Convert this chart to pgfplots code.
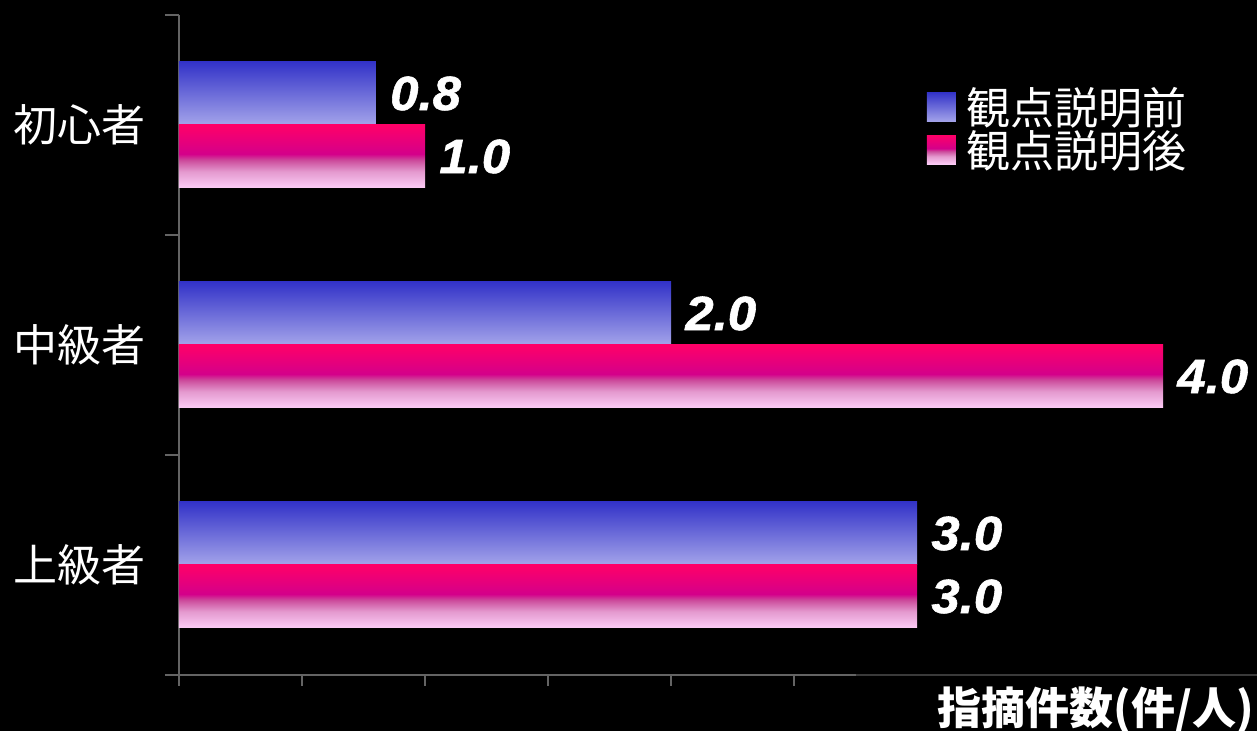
\documentclass[border=0pt]{standalone}
\usepackage{fontspec}
\setmainfont{Noto Sans CJK JP}
\newfontfamily\valfont[FakeStretch=1.06, BoldItalicFeatures={FakeBold=1.2}]{Liberation Sans}
\usepackage{pgfplots}
\pgfplotsset{compat=1.18}
\definecolor{axgray}{HTML}{646464}
\definecolor{axdim}{HTML}{3A3A3A}
\definecolor{btop}{HTML}{3333C8}
\definecolor{bbot}{HTML}{A4A4EA}
\definecolor{ptop}{HTML}{FF0068}
\definecolor{pmid}{HTML}{D4008A}
\definecolor{pmidb}{HTML}{CC4C9C}
\definecolor{plow}{HTML}{E49ACF}
\definecolor{pbot}{HTML}{FCCCF6}
\pgfdeclareverticalshading{bluebar}{100bp}{color(0bp)=(bbot); color(25bp)=(bbot); color(75bp)=(btop); color(100bp)=(btop)}
\pgfdeclareverticalshading{pinkbar}{100bp}{color(0bp)=(pbot); color(25bp)=(pbot); color(38bp)=(plow); color(47bp)=(pmidb); color(52bp)=(pmid); color(75bp)=(ptop); color(100bp)=(ptop)}
\pgfplotsset{
  bluestyle/.style={xbar, draw=none, shade, shading=bluebar, bar shift=15.75pt,
    every node near coord/.append style={yshift=15.75pt},
    legend image code/.code={\shade[shading=bluebar] (0pt,-5pt) rectangle (14.5pt,9.5pt);}},
  pinkstyle/.style={xbar, draw=none, shade, shading=pinkbar, bar shift=-15.75pt,
    every node near coord/.append style={yshift=-15.75pt},
    legend image code/.code={\shade[shading=pinkbar] (0pt,-5pt) rectangle (14.5pt,9.5pt);}},
}
\begin{document}
\begin{tikzpicture}
\path[use as bounding box, fill=black] (-89.5pt,-28pt) rectangle (539pt,337.5pt);
\begin{axis}[
  x=123pt, y=110pt,
  xmin=0, xmax=2.75, ymin=-0.5, ymax=2.5,
  clip=false,
  axis x line*=bottom, axis y line*=left,
  axis line style={axgray, line width=1pt},
  tick align=outside,
  major tick length=5.5pt, minor tick length=7pt,
  xtick={0,0.5,1,1.5,2,2.5}, xticklabels={},
  x tick style={axgray, line width=1pt},
  ytick={0,1,2}, yticklabels={上級者,中級者,初心者},
  minor ytick={-0.5,0.5,1.5,2.5},
  major y tick style={draw=none},
  minor y tick style={axgray, line width=1pt},
  yticklabel style={font=\fontsize{22}{26}\selectfont, text=white, inner sep=0pt, xshift=-11pt},
  xlabel={指摘件数(件/人)},
  xlabel style={at={(axis description cs:1.355,-0.053)}, anchor=center, font=\bfseries\fontsize{22}{26}\selectfont, text=white},
  bar width=31.5pt,
  point meta=x,
  /pgf/number format/assume math mode=true,
  nodes near coords={\pgfmathprintnumber[fixed,fixed zerofill,precision=1]{\pgfplotspointmeta}},
  nodes near coords style={font=\valfont\bfseries\itshape\fontsize{24}{28}\selectfont, text=white, anchor=west, inner sep=0pt, xshift=7pt},
  legend style={at={(axis description cs:1.096,0.8215)}, anchor=west, draw=none, fill=none, text=white,
    font=\fontsize{22}{26}\selectfont, row sep=-0.75pt, column sep=5pt,
    nodes={inner sep=0.5pt, text height=17pt, text depth=4pt}},
  legend cell align=left,
]
\addplot[bluestyle] coordinates {(0.8,2)};
\addlegendentry{観点説明前}
\addplot[pinkstyle] coordinates {(1.0,2)};
\addlegendentry{観点説明後}
\addplot[bluestyle, forget plot] coordinates {(2.0,1)};
\addplot[bluestyle, forget plot] coordinates {(3.0,0)};
\addplot[pinkstyle, forget plot] coordinates {(4.0,1)};
\addplot[pinkstyle, forget plot] coordinates {(3.0,0)};
\draw[axdim, line width=1pt] (axis cs:2.75,-0.5) -- (axis cs:4.4,-0.5);
\end{axis}
\end{tikzpicture}
\end{document}
